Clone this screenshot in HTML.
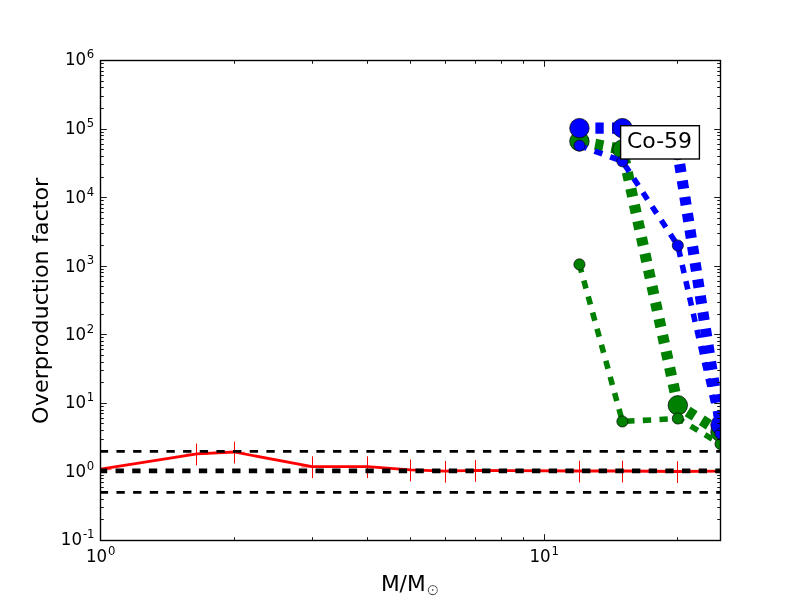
<!DOCTYPE html>
<html lang="en"><head><meta charset="utf-8"><title>Co-59 overproduction factor</title>
<style>html,body{margin:0;padding:0;background:#fff;}body{width:800px;height:600px;overflow:hidden;}svg{display:block;}text{font-family:"DejaVu Sans","Liberation Sans",sans-serif;fill:#000;}</style></head><body>
<svg width="800" height="600" viewBox="0 0 800 600">
<rect x="0" y="0" width="800" height="600" fill="#ffffff"/>
<defs><clipPath id="ax"><rect x="100.5" y="60.5" width="620" height="480"/></clipPath></defs>
<g clip-path="url(#ax)">
<line x1="579.43" y1="141.3" x2="622.41" y2="149.5" stroke="#008000" stroke-width="11.11" stroke-dasharray="8.33 8.33" stroke-dashoffset="0.7"/>
<line x1="622.41" y1="149.5" x2="677.82" y2="405.3" stroke="#008000" stroke-width="11.11" stroke-dasharray="8.33 8.33" stroke-dashoffset="10.02"/>
<line x1="677.82" y1="405.3" x2="720.5" y2="432" stroke="#008000" stroke-width="11.11" stroke-dasharray="8.33 8.33" stroke-dashoffset="5.09"/>
<circle cx="579.43" cy="141.3" r="9.72" fill="#008000" stroke="#000" stroke-width="0.7"/>
<circle cx="622.41" cy="149.5" r="9.72" fill="#008000" stroke="#000" stroke-width="0.7"/>
<circle cx="677.82" cy="405.3" r="9.72" fill="#008000" stroke="#000" stroke-width="0.7"/>
<circle cx="720.5" cy="432" r="9.72" fill="#008000" stroke="#000" stroke-width="0.7"/>
</g>
<g clip-path="url(#ax)">
<line x1="579.43" y1="264.4" x2="622.41" y2="421.5" stroke="#008000" stroke-width="5.56" stroke-dasharray="8.33 8.33" stroke-dashoffset="0"/>
<line x1="622.41" y1="421.5" x2="677.82" y2="418.5" stroke="#008000" stroke-width="5.56" stroke-dasharray="8.33 8.33" stroke-dashoffset="12.87"/>
<line x1="677.82" y1="418.5" x2="720.5" y2="444" stroke="#008000" stroke-width="5.56" stroke-dasharray="8.33 8.33" stroke-dashoffset="1.7"/>
<circle cx="579.43" cy="264.4" r="5.56" fill="#008000" stroke="#000" stroke-width="0.7"/>
<circle cx="622.41" cy="421.5" r="5.56" fill="#008000" stroke="#000" stroke-width="0.7"/>
<circle cx="677.82" cy="418.5" r="5.56" fill="#008000" stroke="#000" stroke-width="0.7"/>
<circle cx="720.5" cy="444" r="5.56" fill="#008000" stroke="#000" stroke-width="0.7"/>
</g>
<g clip-path="url(#ax)">
<line x1="579.43" y1="128.1" x2="622.41" y2="128.1" stroke="#0000ff" stroke-width="11.11" stroke-dasharray="8.33 8.33" stroke-dashoffset="0.7"/>
<line x1="622.41" y1="128.1" x2="677.52" y2="150.1" stroke="#0000ff" stroke-width="11.11" stroke-dasharray="8.33 8.33" stroke-dashoffset="10.05"/>
<line x1="677.52" y1="150.1" x2="720.5" y2="425" stroke="#0000ff" stroke-width="11.11" stroke-dasharray="8.33 8.33" stroke-dashoffset="2.52"/>
<circle cx="579.43" cy="128.1" r="9.72" fill="#0000ff" stroke="#000" stroke-width="0.7"/>
<circle cx="622.41" cy="128.1" r="9.72" fill="#0000ff" stroke="#000" stroke-width="0.7"/>
<circle cx="677.52" cy="150.1" r="9.72" fill="#0000ff" stroke="#000" stroke-width="0.7"/>
<circle cx="720.5" cy="425" r="9.72" fill="#0000ff" stroke="#000" stroke-width="0.7"/>
</g>
<g clip-path="url(#ax)">
<line x1="579.43" y1="145.6" x2="622.41" y2="161.3" stroke="#0000ff" stroke-width="5.56" stroke-dasharray="8.33 8.33" stroke-dashoffset="0.6"/>
<line x1="622.41" y1="161.3" x2="677.82" y2="245.5" stroke="#0000ff" stroke-width="5.56" stroke-dasharray="8.33 8.33" stroke-dashoffset="12.62"/>
<line x1="677.82" y1="245.5" x2="720.5" y2="433.5" stroke="#0000ff" stroke-width="5.56" stroke-dasharray="8.33 8.33" stroke-dashoffset="13.42"/>
<circle cx="579.43" cy="145.6" r="5.56" fill="#0000ff" stroke="#000" stroke-width="0.7"/>
<circle cx="622.41" cy="161.3" r="5.56" fill="#0000ff" stroke="#000" stroke-width="0.7"/>
<circle cx="677.82" cy="245.5" r="5.56" fill="#0000ff" stroke="#000" stroke-width="0.7"/>
<circle cx="720.5" cy="433.5" r="5.56" fill="#0000ff" stroke="#000" stroke-width="0.7"/>
</g>
<g clip-path="url(#ax)">
<polyline fill="none" stroke="#ff0000" stroke-width="2.78" stroke-linejoin="round" points="100.5,469.2 196.96,453.8 234.01,452 312.11,466.6 367.52,466.6 410.5,469.8 445.62,471.2 475.31,470.4 579.13,471 622.11,471 677.52,471.5 720.5,471.1"/>
<path d="M100.5 458.9V480.7M196.5 443.5V465.3M234.5 441.7V463.5M312.5 456.3V478.1M367.5 456.3V478.1M410.5 459.5V481.3M445.5 460.9V482.7M475.5 460.1V481.9M579.5 460.7V482.5M622.5 460.7V482.5M677.5 461.2V483M720.5 460.8V482.6" stroke="#ff0000" stroke-width="1" fill="none"/>
<path d="M89.6 469.6H111.4M186.06 454.2H207.86M223.11 452.4H244.91M301.21 467H323.01M356.62 467H378.42M399.6 470.2H421.4M434.72 471.6H456.52M464.41 470.8H486.21M568.23 471.4H590.03M611.21 471.4H633.01M666.62 471.9H688.42M709.6 471.5H731.4" stroke="#ff0000" stroke-width="0.7" fill="none"/>
<line x1="99.8" x2="721.5" y1="451.3" y2="451.3" stroke="#000" stroke-width="2.8" stroke-dasharray="8.33 8.33"/>
<line x1="99.8" x2="721.5" y1="492.4" y2="492.4" stroke="#000" stroke-width="2.8" stroke-dasharray="8.33 8.33"/>
<line x1="98.9" x2="721.5" y1="470.95" y2="470.95" stroke="#000" stroke-width="4.7" stroke-dasharray="8.33 8.33"/>
</g>
<path d="M100.5 540.5h6.3M720.5 540.5h-6.3M100.5 519.5h3.3M720.5 519.5h-3.3M100.5 507.5h3.3M720.5 507.5h-3.3M100.5 499.5h3.3M720.5 499.5h-3.3M100.5 492.5h3.3M720.5 492.5h-3.3M100.5 487.5h3.3M720.5 487.5h-3.3M100.5 482.5h3.3M720.5 482.5h-3.3M100.5 478.5h3.3M720.5 478.5h-3.3M100.5 475.5h3.3M720.5 475.5h-3.3M100.5 471.5h6.3M720.5 471.5h-6.3M100.5 451.5h3.3M720.5 451.5h-3.3M100.5 439.5h3.3M720.5 439.5h-3.3M100.5 430.5h3.3M720.5 430.5h-3.3M100.5 423.5h3.3M720.5 423.5h-3.3M100.5 418.5h3.3M720.5 418.5h-3.3M100.5 413.5h3.3M720.5 413.5h-3.3M100.5 410.5h3.3M720.5 410.5h-3.3M100.5 406.5h3.3M720.5 406.5h-3.3M100.5 403.5h6.3M720.5 403.5h-6.3M100.5 382.5h3.3M720.5 382.5h-3.3M100.5 370.5h3.3M720.5 370.5h-3.3M100.5 362.5h3.3M720.5 362.5h-3.3M100.5 355.5h3.3M720.5 355.5h-3.3M100.5 349.5h3.3M720.5 349.5h-3.3M100.5 345.5h3.3M720.5 345.5h-3.3M100.5 341.5h3.3M720.5 341.5h-3.3M100.5 337.5h3.3M720.5 337.5h-3.3M100.5 334.5h6.3M720.5 334.5h-6.3M100.5 314.5h3.3M720.5 314.5h-3.3M100.5 302.5h3.3M720.5 302.5h-3.3M100.5 293.5h3.3M720.5 293.5h-3.3M100.5 286.5h3.3M720.5 286.5h-3.3M100.5 281.5h3.3M720.5 281.5h-3.3M100.5 276.5h3.3M720.5 276.5h-3.3M100.5 272.5h3.3M720.5 272.5h-3.3M100.5 269.5h3.3M720.5 269.5h-3.3M100.5 266.5h6.3M720.5 266.5h-6.3M100.5 245.5h3.3M720.5 245.5h-3.3M100.5 233.5h3.3M720.5 233.5h-3.3M100.5 224.5h3.3M720.5 224.5h-3.3M100.5 218.5h3.3M720.5 218.5h-3.3M100.5 212.5h3.3M720.5 212.5h-3.3M100.5 208.5h3.3M720.5 208.5h-3.3M100.5 204.5h3.3M720.5 204.5h-3.3M100.5 200.5h3.3M720.5 200.5h-3.3M100.5 197.5h6.3M720.5 197.5h-6.3M100.5 177.5h3.3M720.5 177.5h-3.3M100.5 164.5h3.3M720.5 164.5h-3.3M100.5 156.5h3.3M720.5 156.5h-3.3M100.5 149.5h3.3M720.5 149.5h-3.3M100.5 144.5h3.3M720.5 144.5h-3.3M100.5 139.5h3.3M720.5 139.5h-3.3M100.5 135.5h3.3M720.5 135.5h-3.3M100.5 132.5h3.3M720.5 132.5h-3.3M100.5 129.5h6.3M720.5 129.5h-6.3M100.5 108.5h3.3M720.5 108.5h-3.3M100.5 96.5h3.3M720.5 96.5h-3.3M100.5 87.5h3.3M720.5 87.5h-3.3M100.5 81.5h3.3M720.5 81.5h-3.3M100.5 75.5h3.3M720.5 75.5h-3.3M100.5 71.5h3.3M720.5 71.5h-3.3M100.5 67.5h3.3M720.5 67.5h-3.3M100.5 63.5h3.3M720.5 63.5h-3.3M100.5 60.5h6.3M720.5 60.5h-6.3M100.5 540.5v-6.3M100.5 60.5v6.3M544.5 540.5v-6.3M544.5 60.5v6.3M234.5 540.5v-3.3M234.5 60.5v3.3M312.5 540.5v-3.3M312.5 60.5v3.3M367.5 540.5v-3.3M367.5 60.5v3.3M410.5 540.5v-3.3M410.5 60.5v3.3M445.5 540.5v-3.3M445.5 60.5v3.3M475.5 540.5v-3.3M475.5 60.5v3.3M501.5 540.5v-3.3M501.5 60.5v3.3M523.5 540.5v-3.3M523.5 60.5v3.3M677.5 540.5v-3.3M677.5 60.5v3.3" stroke="#000" stroke-width="0.9" fill="none"/>
<rect x="100.5" y="60.5" width="620" height="480" fill="none" stroke="#000" stroke-width="1.39"/>
<text transform="translate(60.8 544.8) scale(1 1.07)" font-size="16.67">10</text><text x="82.9" y="537.85" font-size="11.67">-1</text>
<text transform="translate(64.9 477.03) scale(1 1.07)" font-size="16.67">10</text><text x="86.7" y="470.18" font-size="11.67">0</text>
<text transform="translate(64.9 407.66) scale(1 1.07)" font-size="16.67">10</text><text x="86.7" y="400.71" font-size="11.67">1</text>
<text transform="translate(64.9 339.89) scale(1 1.07)" font-size="16.67">10</text><text x="86.7" y="332.64" font-size="11.67">2</text>
<text transform="translate(64.9 271.61) scale(1 1.07)" font-size="16.67">10</text><text x="86.7" y="263.86" font-size="11.67">3</text>
<text transform="translate(64.9 202.74) scale(1 1.07)" font-size="16.67">10</text><text x="86.7" y="195.69" font-size="11.67">4</text>
<text transform="translate(64.9 134.27) scale(1 1.07)" font-size="16.67">10</text><text x="86.7" y="126.92" font-size="11.67">5</text>
<text transform="translate(64.9 64.8) scale(1 1.07)" font-size="16.67">10</text><text x="86.7" y="57.85" font-size="11.67">6</text>
<text transform="translate(85.9 561.5) scale(1 1.07)" font-size="16.67">10</text><text x="107.9" y="554.65" font-size="11.67">0</text>
<text transform="translate(529.41 561.5) scale(1 1.07)" font-size="16.67">10</text><text x="551.41" y="554.65" font-size="11.67">1</text>
<text x="380.9" y="591.2" font-size="21.7">M/M</text><text x="426.6" y="594.8" font-size="15.56" stroke="#fff" stroke-width="0.45">&#8857;</text>
<text transform="translate(47.9 423.9) rotate(-90) scale(1 0.925)" font-size="22.35">Overproduction factor</text>
<rect x="620.6" y="125.7" width="78.8" height="33.3" fill="#fff" stroke="#000" stroke-width="1.39"/>
<text transform="translate(627 148) scale(1 0.95)" font-size="21.95">Co-59</text>
</svg></body></html>
